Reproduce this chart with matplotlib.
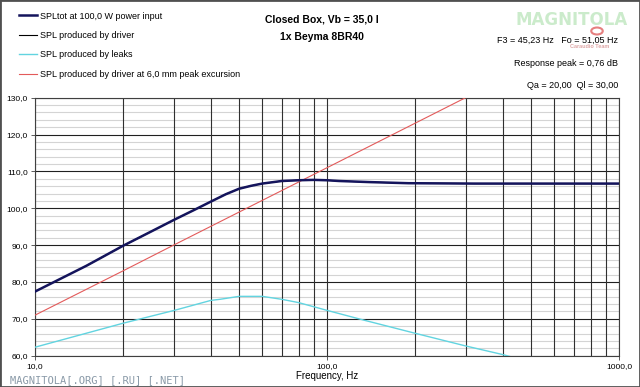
import matplotlib
matplotlib.use("Agg")
import matplotlib.pyplot as plt
from matplotlib.patches import Rectangle
import numpy as np

plt.rcParams['font.family'] = ['Liberation Sans', 'DejaVu Sans']

# SPLtot at 100 W
f_tot = [10, 15, 20, 25, 30, 35, 40, 45, 50, 55, 60, 70, 80, 90, 100, 110, 140, 190, 320, 1000]
spl_tot = [77.4, 84.4, 89.8, 93.7, 96.9, 99.5, 101.8, 103.8, 105.3, 106.1, 106.7, 107.4,
           107.6, 107.7, 107.6, 107.4, 107.1, 106.8, 106.7, 106.7]

# SPL produced by leaks
f_leak = [10, 20, 30, 40, 43, 50, 60, 70, 80, 100, 133, 200, 300, 400, 450]
spl_leak = [62.3, 68.8, 72.3, 75.0, 75.3, 76.1, 76.1, 75.3, 74.4, 72.3, 69.7, 66.1, 62.6, 60.3, 59.2]

# SPL at 6,0 mm peak excursion
f_xmax = [10, 20, 30, 100, 300]
spl_xmax = [71.0, 83.0, 90.1, 111.0, 130.1]

labels = ["SPLtot at 100,0 W power input",
          "SPL produced by driver",
          "SPL produced by leaks",
          "SPL produced by driver at 6,0 mm peak excursion"]

yticks = np.arange(60, 131, 10)
ytick_labels = ["%d,0" % v for v in yticks]

fig = plt.figure(figsize=(6.4, 3.87), dpi=100)
ax = fig.add_axes([35/640, 1-355.7/387, (619-35)/640, (355.7-97.7)/387])

ax.set_xscale('log')
ax.set_xlim(10, 1000)
ax.set_ylim(60, 130)

# grid
for v in np.arange(60, 131, 2):
    if v % 10:
        ax.axhline(v, color='#d4d4d4', lw=0.8, zorder=0)
    else:
        ax.axhline(v, color='#202020', lw=0.8, zorder=1)
for dec in [10, 100]:
    for k in range(1, 10):
        ax.axvline(dec*k, color='#303030', lw=0.8, zorder=1)
ax.axvline(1000, color='#303030', lw=0.8, zorder=1)

l3, = ax.plot(f_leak, spl_leak, color='#62d4e0', lw=1.0, zorder=3)
l4, = ax.plot(f_xmax, spl_xmax, color='#e35a5a', lw=0.8, zorder=3)
l2, = ax.plot(f_tot, spl_tot, color='#000000', lw=0.8, zorder=4)
l1, = ax.plot(f_tot, spl_tot, color='#14145c', lw=1.8, zorder=5)

ax.set_yticks(yticks)
ax.set_yticklabels(ytick_labels)
ax.set_xticks([10, 100, 1000])
ax.set_xticklabels(["10,0", "100,0", "1000,0"])
ax.xaxis.set_minor_locator(matplotlib.ticker.NullLocator())
ax.tick_params(axis='both', labelsize=6, length=3, width=0.6, color='#404040', pad=2)
for s in ax.spines.values():
    s.set_color('#404040')
    s.set_linewidth(0.8)
ax.set_xlabel("Frequency, Hz", fontsize=7, labelpad=1)

fig.legend([l1, l2, l3, l4], labels, loc='upper left', bbox_to_anchor=(15/640, 1-8/387),
           frameon=False, fontsize=6.5, handlelength=2.0, handletextpad=0.4,
           labelspacing=1.15, borderaxespad=0)

fig.text(322/640, 1-20/387, "Closed Box, Vb = 35,0 l", ha='center', va='center',
         fontsize=7.5, fontweight='bold')
fig.text(322/640, 1-37/387, "1x Beyma 8BR40", ha='center', va='center',
         fontsize=7.5, fontweight='bold')

# logo watermark
fig.text(572/640, 1-20/387, "MAGNITOLA", ha='center', va='center', fontsize=12,
         color='#bfe6bf', alpha=0.8, fontweight='bold', family='DejaVu Sans Condensed')
fig.patches.append(plt.Circle((597/640, 1-31/387), 0.009, transform=fig.transFigure,
                              fill=False, ec='#e06060', lw=1.5, alpha=0.8))
fig.text(590/640, 1-47/387, "Caraudio Team", ha='center', va='center', fontsize=4,
         color='#d08080', alpha=0.7, fontweight='bold')

fig.text(618/640, 1-40/387, "F3 = 45,23 Hz   Fo = 51,05 Hz", ha='right', va='center', fontsize=6.5)
fig.text(618/640, 1-63/387, "Response peak = 0,76 dB", ha='right', va='center', fontsize=6.5)
fig.text(618/640, 1-85/387, "Qa = 20,00  Ql = 30,00", ha='right', va='center', fontsize=6.5)

fig.text(10/640, 1-380/387, "MAGNITOLA[.ORG] [.RU] [.NET]", ha='left', va='center',
         fontsize=7.5, color='#8a9aa8', family='DejaVu Sans Mono')

fig.patches.append(Rectangle((0, 0), 1, 1, transform=fig.transFigure, fill=False,
                             ec='#505050', lw=2))

fig.savefig("out.png", dpi=100)
